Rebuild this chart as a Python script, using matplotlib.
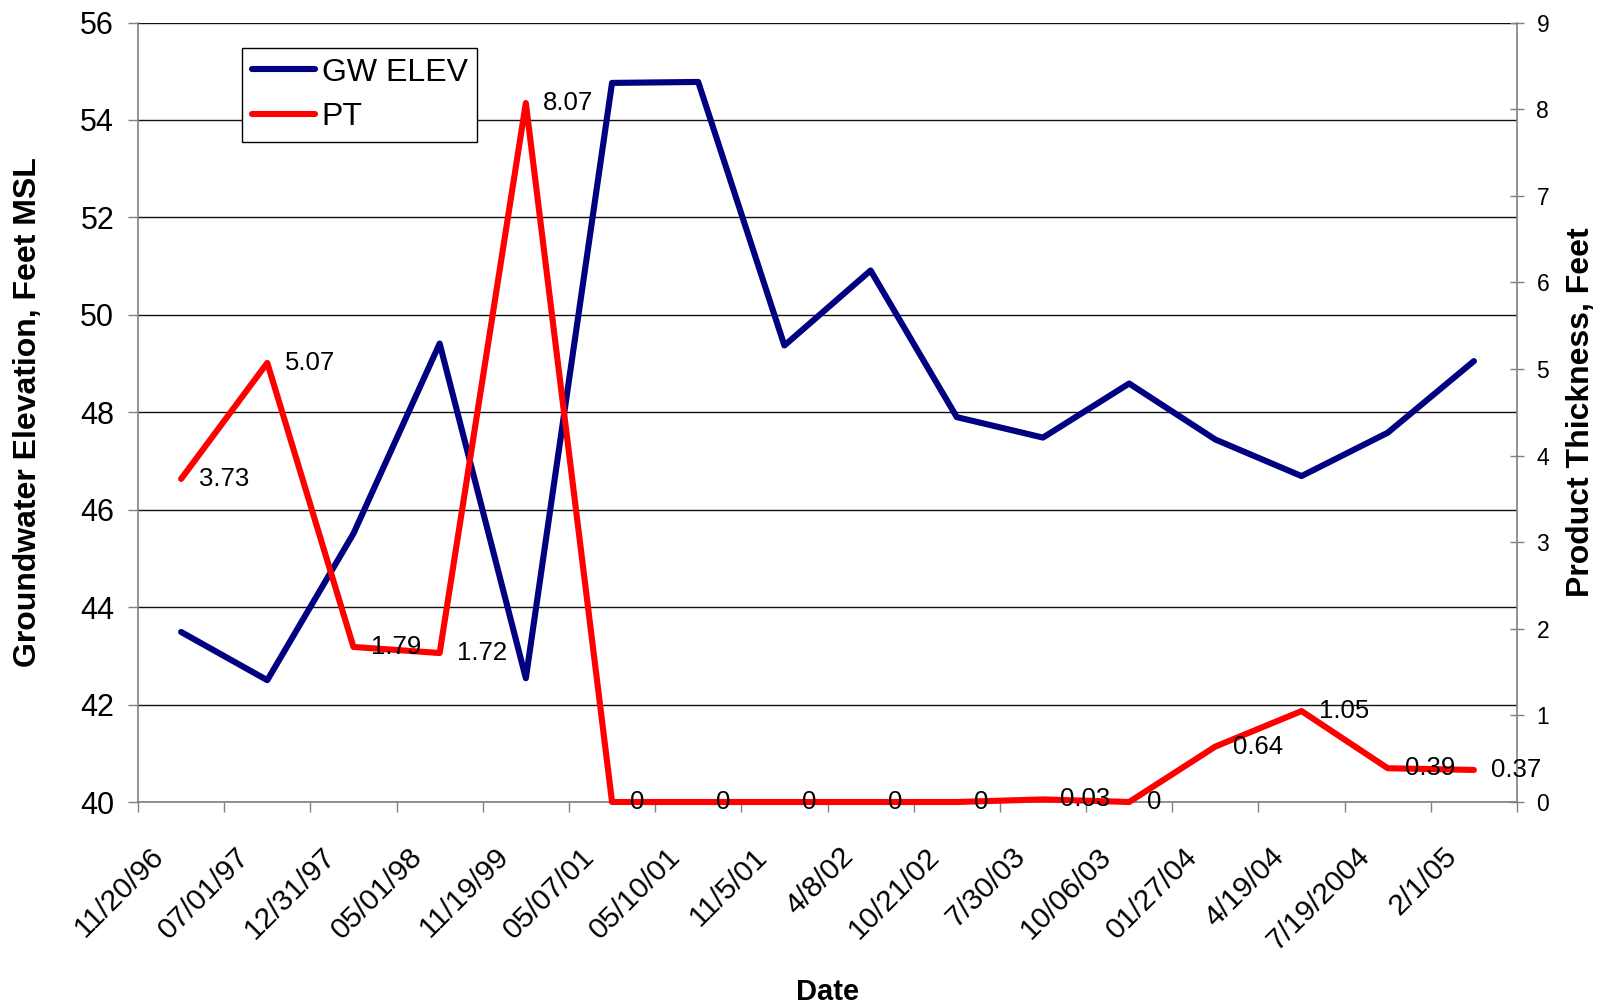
import matplotlib
matplotlib.use("Agg")
import matplotlib.pyplot as plt
from matplotlib.transforms import ScaledTranslation

plt.rcParams['font.family'] = ['Liberation Sans', 'DejaVu Sans']

# Sampling dates (category axis)
dates = ['11/20/96', '07/01/97', '12/31/97', '05/01/98', '11/19/99', '05/07/01',
         '05/10/01', '11/5/01', '4/8/02', '10/21/02', '7/30/03', '10/06/03',
         '01/27/04', '4/19/04', '7/19/2004', '2/1/05']

# Groundwater elevation, feet MSL (left axis)
gw_elev = [43.49, 42.50, 45.51, 49.41, 42.54, 54.76, 54.78, 49.37, 50.91, 47.90,
           47.48, 48.59, 47.44, 46.69, 47.58, 49.05]

# Product thickness, feet (right axis)
pt = [3.73, 5.07, 1.79, 1.72, 8.07, 0, 0, 0, 0, 0, 0.03, 0, 0.64, 1.05, 0.39, 0.37]

left_ticks = [40, 42, 44, 46, 48, 50, 52, 54, 56]
right_ticks = [0, 1, 2, 3, 4, 5, 6, 7, 8, 9]

W, H = 1602, 1007
fig = plt.figure(figsize=(W / 100, H / 100), dpi=100)
fig.patch.set_facecolor('white')

x0, x1, y0, y1 = 138, 1517, 22.5, 802
ax = fig.add_axes([x0 / W, 1 - y1 / H, (x1 - x0) / W, (y1 - y0) / H])
ax2 = ax.twinx()

xs = list(range(len(dates)))
spine_c = '#808080'

# Groundwater elevation line
l_gw, = ax.plot(xs, gw_elev, color='#000080', lw=4.4, solid_capstyle='round',
                solid_joinstyle='round', zorder=3, clip_on=False)
# Product thickness line
l_pt, = ax2.plot(xs, pt, color='#FF0000', lw=4.4, solid_capstyle='round',
                 solid_joinstyle='round', zorder=3, clip_on=False)

ax.set_xlim(-0.5, len(dates) - 0.5)
ax.set_ylim(40, 56)
ax2.set_ylim(0, 9)

# Horizontal gridlines from the left axis
ax.set_yticks(left_ticks)
ax.yaxis.grid(True, color='#111111', lw=1.0, zorder=1)
ax.set_axisbelow(True)

# Spines
for s in ['top', 'right']:
    ax.spines[s].set_visible(False)
for s in ['left', 'bottom']:
    ax.spines[s].set_color(spine_c)
    ax.spines[s].set_linewidth(1.2)
    ax.spines[s].set_zorder(2)
for s in ['top', 'left', 'bottom']:
    ax2.spines[s].set_visible(False)
ax2.spines['right'].set_color(spine_c)
ax2.spines['right'].set_linewidth(1.2)

ax.tick_params(axis='y', direction='out', length=7.2, width=1, color=spine_c,
               labelsize=22, pad=10)
ax2.set_yticks(right_ticks)
ax2.tick_params(axis='y', direction='inout', length=10, width=1, color=spine_c,
                labelsize=16.5, pad=9)

# Category axis: tick marks between categories, labels at centers
ax.set_xticks([i - 0.5 for i in range(len(dates) + 1)])
ax.set_xticklabels([])
ax.tick_params(axis='x', which='major', direction='out', length=7.2, width=1,
               color=spine_c)
ax.set_xticks(xs, dates, minor=True)
ax.tick_params(axis='x', which='minor', length=0, labelsize=21.5, pad=29)
shift = ScaledTranslation(-0.12, 0, fig.dpi_scale_trans)
for lab in ax.get_xticklabels(minor=True):
    lab.set_rotation(45)
    lab.set_ha('right')
    lab.set_va('top')
    lab.set_transform(lab.get_transform() + shift)

# Value labels on the product thickness series
for xi, v in zip(xs, pt):
    ax2.annotate(f"{v:g}", (xi, v), xytext=(12.6, 0), textcoords='offset points',
                 ha='left', va='center', fontsize=18.5, zorder=5,
                 annotation_clip=False)

# Axis titles
fig.text(28 / W, 1 - 412 / H, 'Groundwater Elevation, Feet MSL', rotation=90,
         ha='center', va='center', fontsize=23, fontweight='bold')
fig.text(1581 / W, 1 - 412 / H, 'Product Thickness, Feet', rotation=90,
         ha='center', va='center', fontsize=23, fontweight='bold')
fig.text(828 / W, 1 - 1000 / H, 'Date', ha='center', va='baseline',
         fontsize=21, fontweight='bold')

# Legend
leg = ax2.legend([l_gw, l_pt], ['GW ELEV', 'PT'], loc='upper left',
                 bbox_to_anchor=(242 / W, 1 - 48 / H),
                 bbox_transform=fig.transFigure, borderaxespad=0,
                 fontsize=23, frameon=True, fancybox=False, framealpha=1,
                 edgecolor='black', borderpad=0.3, labelspacing=0.45,
                 handlelength=2.0, handletextpad=0.2)
leg.get_frame().set_linewidth(1.0)
leg.set_zorder(10)

fig.savefig('out.png', dpi=100, facecolor='white')
